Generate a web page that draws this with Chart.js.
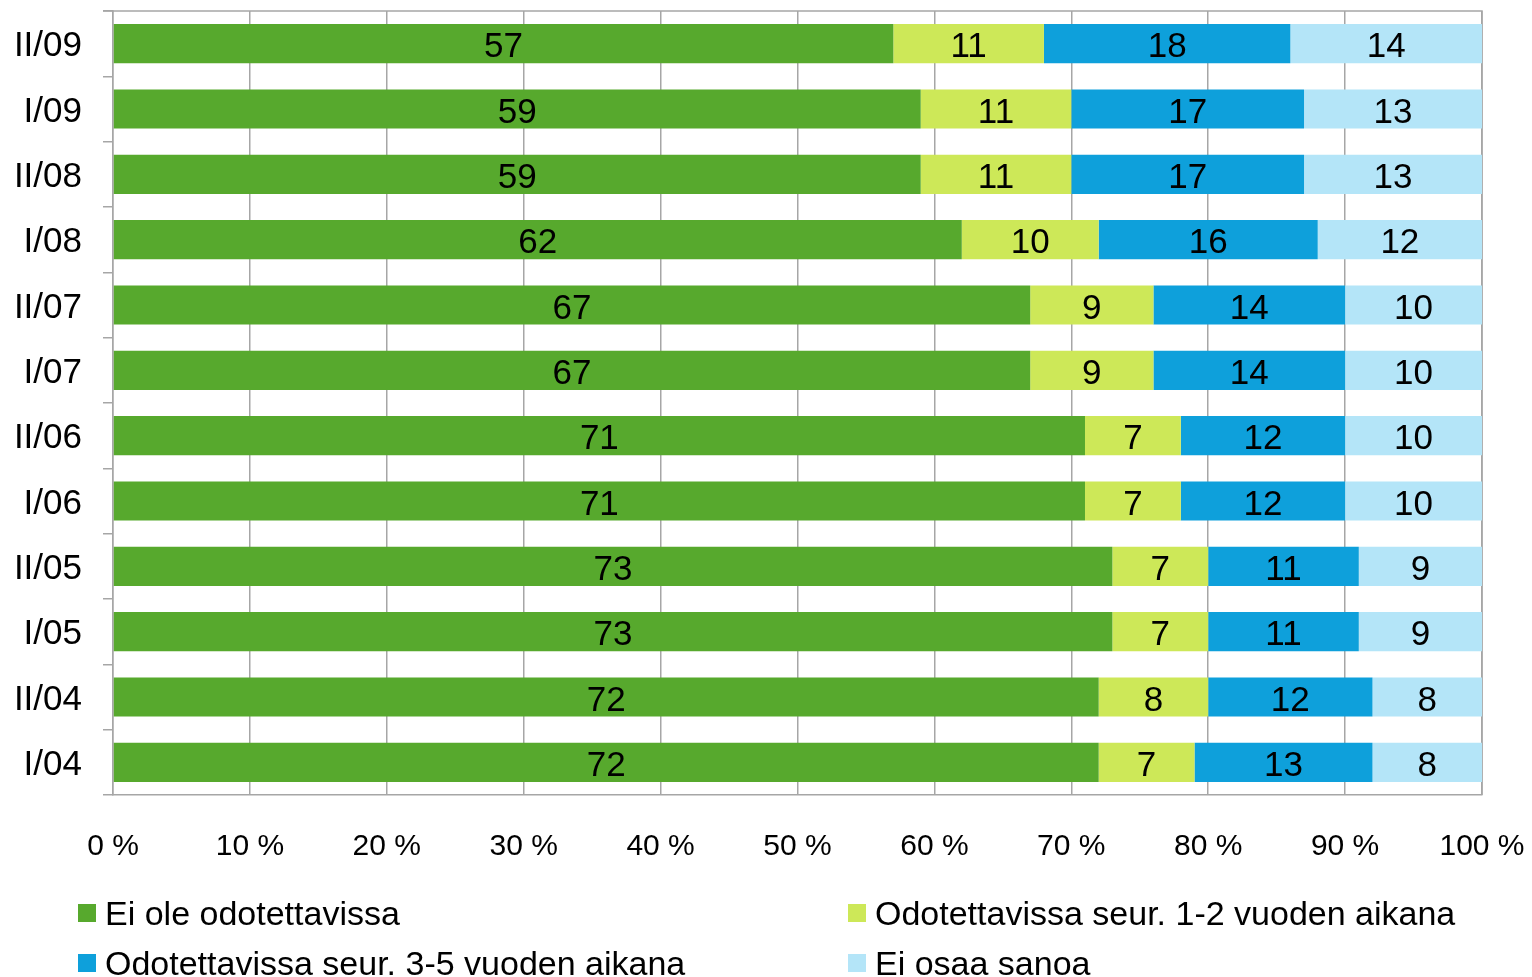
<!DOCTYPE html>
<html>
<head>
<meta charset="utf-8">
<script src="https://cdn.jsdelivr.net/npm/chart.js@4/dist/chart.umd.min.js"></script>
<style>
  html, body { margin: 0; padding: 0; background: #fff; }
  #wrap { position: relative; width: 1532px; height: 977px; overflow: hidden; }
  #c { position: absolute; left: 0; top: 0; }
  .leg { position: absolute; font-family: "Liberation Sans", Arial, sans-serif; font-size: 34px; color: #000; white-space: nowrap; line-height: 40px; height: 40px; }
  .leg .box { display: inline-block; width: 18px; height: 18px; vertical-align: middle; margin-right: 9px; position: relative; top: -3px; }
</style>
</head>
<body>
<div id="wrap">
  <canvas id="c" width="1532" height="977"></canvas>
  <div id="legend"></div>
</div>
<script>
const categories = ["II/09", "I/09", "II/08", "I/08", "II/07", "I/07", "II/06", "I/06", "II/05", "I/05", "II/04", "I/04"];
const seriesNames = ["Ei ole odotettavissa", "Odotettavissa seur. 1-2 vuoden aikana", "Odotettavissa seur. 3-5 vuoden aikana", "Ei osaa sanoa"];
const eiOle      = [57, 59, 59, 62, 67, 67, 71, 71, 73, 73, 72, 72];
const seur12     = [11, 11, 11, 10,  9,  9,  7,  7,  7,  7,  8,  7];
const seur35     = [18, 17, 17, 16, 14, 14, 12, 12, 11, 11, 12, 13];
const eiOsaa     = [14, 13, 13, 12, 10, 10, 10, 10,  9,  9,  8,  8];
const xTicks     = [0, 10, 20, 30, 40, 50, 60, 70, 80, 90, 100];
const colors     = ["rgb(87,169,45)", "rgb(205,232,88)", "rgb(14,160,219)", "rgb(180,229,248)"];

const FONT = '"Liberation Sans", Arial, sans-serif';
const gridColor = "#a6a6a6";

function noPad(scale) {
  scale.paddingLeft = 0; scale.paddingRight = 0;
  scale.paddingTop = 0; scale.paddingBottom = 0;
}

const valueLabels = {
  id: "valueLabels",
  afterDatasetsDraw(chart) {
    const ctx = chart.ctx;
    ctx.save();
    ctx.font = "35px " + FONT;
    ctx.fillStyle = "#000";
    ctx.textAlign = "center";
    ctx.textBaseline = "middle";
    chart.data.datasets.forEach((ds, i) => {
      const meta = chart.getDatasetMeta(i);
      meta.data.forEach((el, j) => {
        const p = el.getCenterPoint();
        ctx.fillText(String(ds.data[j]), p.x, p.y + 4);
      });
    });
    ctx.restore();
  }
};

const frame = {
  id: "frame",
  beforeDatasetsDraw(chart) {
    const a = chart.chartArea, ctx = chart.ctx;
    ctx.save();
    ctx.strokeStyle = gridColor;
    ctx.lineWidth = 1.5;
    ctx.beginPath();
    ctx.moveTo(a.left - 10, a.top);
    ctx.lineTo(a.right, a.top);
    ctx.lineTo(a.right, a.bottom);
    ctx.stroke();
    ctx.restore();
  }
};

const datasets = [eiOle, seur12, seur35, eiOsaa].map((d, i) => ({
  label: seriesNames[i],
  data: d,
  backgroundColor: colors[i],
  borderWidth: 0,
  barPercentage: 0.6,
  categoryPercentage: 1.0
}));

new Chart(document.getElementById("c"), {
  type: "bar",
  data: { labels: categories, datasets },
  options: {
    indexAxis: "y",
    responsive: false,
    animation: false,
    layout: { padding: { top: 11, right: 50, left: 0, bottom: 0 } },
    plugins: { legend: { display: false }, tooltip: { enabled: false } },
    scales: {
      x: {
        stacked: true,
        min: 0, max: 100,
        afterBuildTicks(scale) { scale.ticks = xTicks.map(v => ({ value: v })); },
        afterFit(scale) { scale.height = 182; noPad(scale); },
        ticks: {
          callback: v => v + " %",
          font: { family: FONT, size: 30 },
          color: "#000",
          padding: 34,
          maxRotation: 0
        },
        grid: { color: gridColor, lineWidth: 1.5, drawTicks: false },
        border: { color: gridColor, width: 1.5 }
      },
      y: {
        stacked: true,
        afterFit(scale) { scale.width = 113; noPad(scale); },
        ticks: {
          font: { family: FONT, size: 35 },
          color: "#000",
          padding: 21,
          labelOffset: 3
        },
        grid: { color: gridColor, lineWidth: 1.5, drawOnChartArea: false, drawTicks: true, tickLength: 10, offset: true },
        border: { color: gridColor, width: 1.5 }
      }
    }
  },
  plugins: [frame, valueLabels]
});

// legend (HTML text)
const legPos = [[78, 893], [848, 893], [78, 943], [848, 943]];
const legEl = document.getElementById("legend");
seriesNames.forEach((name, i) => {
  const d = document.createElement("div");
  d.className = "leg";
  d.style.left = legPos[i][0] + "px";
  d.style.top = legPos[i][1] + "px";
  d.innerHTML = '<span class="box" style="background:' + colors[i] + '"></span>' + name;
  legEl.appendChild(d);
});
</script>
</body>
</html>
